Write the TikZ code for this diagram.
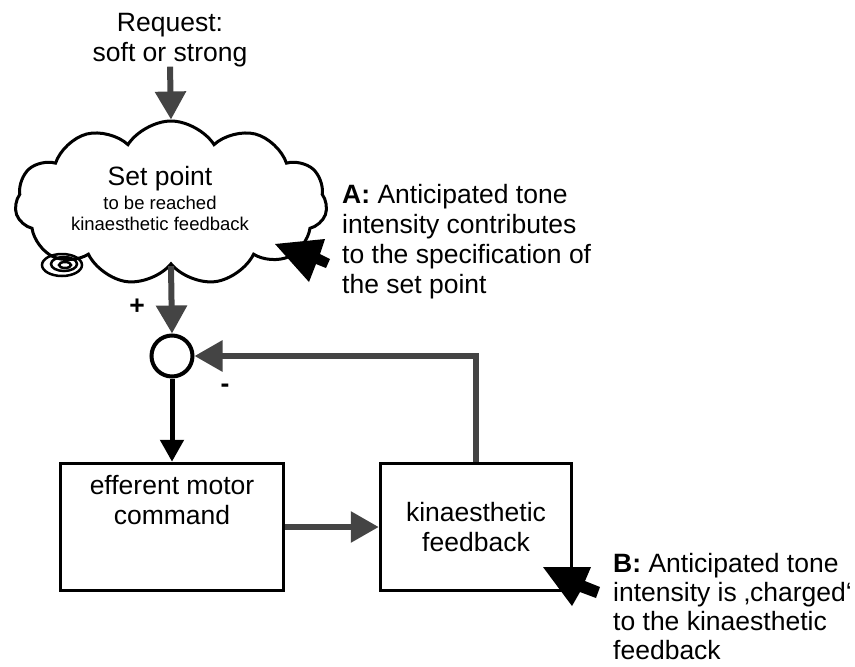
\documentclass[tikz,border=0pt]{standalone}
\usepackage{fontspec}
\setmainfont{Liberation Sans}
\usepackage{tikz}
\usetikzlibrary{arrows.meta,shapes.symbols}
\definecolor{arrowgrey}{RGB}{68,68,68}
\newcommand{\smalltxt}{\fontsize{18.5}{21}\selectfont}
\newcommand{\bigtxt}{\fontsize{26.5}{30}\selectfont}
\tikzset{
  base/.style={font=\bigtxt, align=center, inner sep=0pt, text=black},
  box/.style={base, rectangle, draw=black, line width=3.5pt, minimum height=127pt},
  sumpt/.style={circle, draw=black, line width=4pt, minimum size=41pt, inner sep=0pt},
  wolke/.style={cloud, cloud puffs=11, cloud puff arc=115, draw=black, line width=3pt, minimum width=312pt, minimum height=164pt, inner sep=0pt},
  arr/.style={-{Triangle[length=28pt,width=30pt]}, line width=6pt, draw=arrowgrey},
  arrb/.style={-{Triangle[length=22pt,width=23pt]}, line width=5pt, draw=black},
  pointer/.style={fill=black, draw=none},
  sign/.style={base, font=\bigtxt\bfseries},
}

\begin{document}
\begin{tikzpicture}[x=1pt,y=-1pt]
  \useasboundingbox (0,0) rectangle (855,667);
  \node[base,anchor=base] (req) at (170,61) {Request:\\soft or strong};
  \node[wolke] (setpoint) at (171,203) {};
  \node[base,anchor=base,font=\smalltxt] (setlbl) at (160,230) {{\bigtxt Set point}\\[3pt]to be reached\\kinaesthetic feedback};
  \draw[line width=2.5pt] (62,265) ellipse [x radius=20pt, y radius=11pt];
  \draw[line width=2.5pt] (64,264) ellipse [x radius=13pt, y radius=7pt];
  \draw[line width=2.5pt] (65,265) ellipse [x radius=6pt, y radius=3pt];
  \node[sumpt] (sum) at (172,356) {};
  \node[sign] (plus) at (137,307) {+};
  \node[sign] (minus) at (225,388) {-};
  \node[box,minimum width=223pt] (eff) at (172,527) {};
  \node[base,anchor=base] (efftxt) at (172,524) {efferent motor\\command};
  \node[box,minimum width=191pt] (kin) at (476,527) {kinaesthetic\\feedback};
  \draw[arr] (req.south) -- (setpoint.north);
  \draw[arr] (setpoint.south) -- (sum.north);
  \draw[arrb] (sum.south) -- (eff.north);
  \draw[arr] (eff.east) -- (kin.west);
  \draw[arr] (kin.north) |- (sum.east);
  \fill[pointer] (275,244) -- (325,239) -- (320,254) -- (330,259) -- (326,268) -- (316,264) -- (309,282) -- cycle;
  \fill[pointer] (543,567) -- (591,567) -- (585,581) -- (600,587) -- (596,598) -- (580,592) -- (572,606) -- cycle;
  \node[base,align=left,anchor=base west] (notea) at (342,293) {\textbf{A:} Anticipated tone\\intensity contributes\\to the specification of\\the set point};
  \node[base,align=left,anchor=base west,font=\fontsize{26.5}{29}\selectfont] (noteb) at (613,659) {\textbf{B:} Anticipated tone\\intensity is ‚charged‘\\to the kinaesthetic\\feedback};
\end{tikzpicture}
\end{document}
